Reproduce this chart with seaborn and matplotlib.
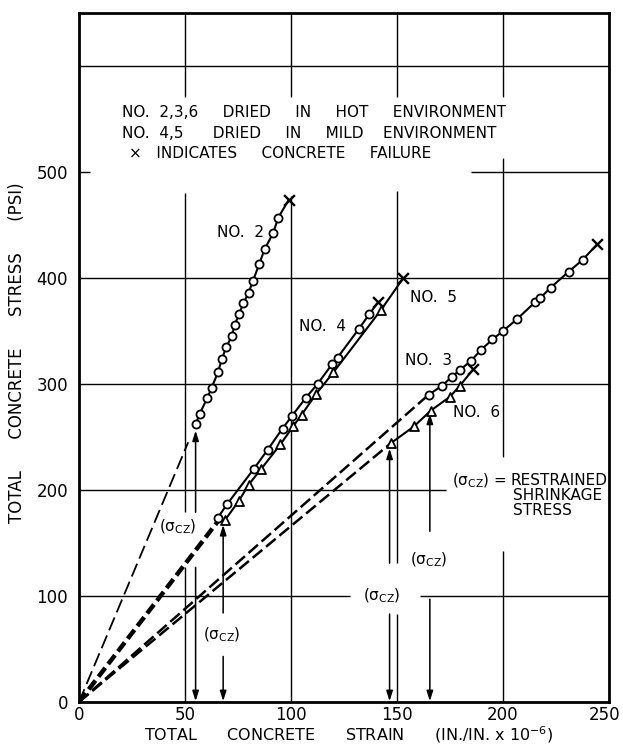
import matplotlib
matplotlib.use("Agg")
import matplotlib.pyplot as plt
import matplotlib.transforms as mtransforms
import numpy as np
import pandas as pd
import seaborn as sns

# ---------------- data (strain: in./in. x 1e-6, stress: psi) ----------------
no2_strain = [55, 57, 60.5, 62.5, 65.5, 67.5, 69.5, 72, 73.5, 75.5, 77.5, 80, 82, 85, 87.5, 91.5, 94]
no2_stress = [262, 272, 287, 296, 311, 324, 335, 345, 356, 366, 376, 386, 397, 413, 427, 442, 457]
no2_fail = (99, 474)

no4_strain = [65.5, 70, 82.5, 89, 96, 100.5, 107, 112.5, 119.5, 122, 132, 137]
no4_stress = [174, 187, 220, 238, 258, 270, 287, 300, 319, 325, 352, 366]
no4_fail = (141, 377)

no5_strain = [69, 75.5, 80, 86, 95, 101, 105, 112, 120, 142.5]
no5_stress = [172, 190, 205, 220, 243, 260, 271, 291, 311, 370]
no5_fail = (153, 400)

no3_strain = [165, 171, 176, 179.5, 185, 189.5, 195, 200, 206.5, 215, 217.5, 222.5, 231, 237.5]
no3_stress = [290, 298, 307, 313, 322, 332, 342, 350, 361, 377, 381, 391, 406, 417]
no3_fail = (244.5, 432)

no6_strain = [147, 158, 166, 175, 179.5]
no6_stress = [244, 260, 275, 288, 298]
no6_fail = (186, 314)

# dashed extrapolations back to the origin
dash_no2 = ([0, 51.5], [0, 245])
dash_no45 = ([0, 66.5], [0, 173])
dash_no3 = ([0, 165], [0, 290])
dash_no6 = ([0, 147], [0, 244])

# restrained shrinkage stress (sigma_cz) dimension arrows
scz_strain = [55, 68, 146.5, 165.5]
scz_tip = [256, 167, 239, 272]
scz_label_strain = [46.5, 67.5, 143, 165]
scz_label_stress = [165, 63, 100, 134]

x_ticks = [0, 50, 100, 150, 200, 250]
y_ticks = [0, 100, 200, 300, 400, 500]

# ---------------- styling constants ----------------
SCZ_GAP = [(127, 179), (43, 84), (83, 131), (97, 161)]
VGRID = {50: [(127, 179), (480, 571)], 100: [(477, 571)], 150: [(83, 131), (482, 571)],
         200: [(142, 231), (513, 571)]}
HGRID = {100: [(128, 161)], 200: [(173, 250)], 300: [], 400: [], 500: [(5, 185)], 600: []}
XMAX, YMAX = 250, 650

sns.set_theme(style="white")
plt.rcParams['font.family'] = ['DejaVu Sans']
plt.rcParams['lines.scale_dashes'] = False
plt.rcParams['mathtext.fontset'] = 'dejavusans'
plt.rcParams['text.color'] = 'black'
plt.rcParams['axes.labelcolor'] = 'black'
plt.rcParams['xtick.color'] = 'black'
plt.rcParams['ytick.color'] = 'black'

fig = plt.figure(figsize=(6.23, 7.46), dpi=100)
ax = fig.add_axes([79 / 623, 1 - 702 / 746, 530 / 623, 689 / 746])
ax.set_xlim(0, XMAX)
ax.set_ylim(0, YMAX)


def segments(lo, hi, gaps):
    segs = []
    start = lo
    for g0, g1 in sorted(gaps):
        segs.append((start, g0))
        start = g1
    segs.append((start, hi))
    return segs


for gx, gaps in VGRID.items():
    for a, b in segments(0, YMAX, gaps):
        ax.vlines(gx, a, b, colors='black', lw=1.0, zorder=1)
for gy, gaps in HGRID.items():
    for a, b in segments(0, XMAX, gaps):
        ax.hlines(gy, a, b, colors='black', lw=1.0, zorder=1)

# dashed extrapolations
ax.plot(*dash_no2, color='black', lw=1.3, ls=(0, (10, 4)), zorder=2)
ax.plot(*dash_no45, color='black', lw=3.2, ls=(0, (8, 3.5)), zorder=2)
ax.plot(*dash_no3, color='black', lw=1.8, ls=(0, (9, 3.5)), zorder=2)
ax.plot(*dash_no6, color='black', lw=1.8, ls=(0, (9, 3.5)), zorder=2)

series = [
    (no2_strain, no2_stress, no2_fail, 'o'),
    (no4_strain, no4_stress, no4_fail, 'o'),
    (no5_strain, no5_stress, no5_fail, '^'),
    (no3_strain, no3_stress, no3_fail, 'o'),
    (no6_strain, no6_stress, no6_fail, '^'),
]
for sx, sy, fail, mk in series:
    df = pd.DataFrame({'strain': list(sx) + [fail[0]], 'stress': list(sy) + [fail[1]]})
    sns.lineplot(data=df, x='strain', y='stress', color='black', lw=1.5,
                 estimator=None, sort=False, ax=ax, zorder=3)
    sns.scatterplot(x=sx, y=sy, marker=mk, s=34 if mk == 'o' else 42, color='white',
                    edgecolor='black', linewidth=1.3, ax=ax, zorder=4)
    sns.scatterplot(x=[fail[0]], y=[fail[1]], marker='x', s=60, color='black',
                    linewidth=1.7, ax=ax, zorder=5)

# sigma_cz arrows
arrow_kw = dict(arrowstyle='-|>,head_length=0.5,head_width=0.16', color='black',
                lw=1.1, shrinkA=0, shrinkB=0, mutation_scale=12)
for xs, tip, (g0, g1), lx, ly in zip(scz_strain, scz_tip, SCZ_GAP, scz_label_strain, scz_label_stress):
    ax.annotate('', xy=(xs, tip), xytext=(xs, g1), arrowprops=arrow_kw, zorder=3)
    ax.annotate('', xy=(xs, 0.8), xytext=(xs, g0), arrowprops=arrow_kw, zorder=3)
    ax.text(lx, ly, r'(σ$_{\mathrm{CZ}}$)', fontsize=11, ha='center', va='center', zorder=6)

# curve labels
FS = 11
ax.text(65, 443, 'NO.  2', fontsize=FS, ha='left', va='center')
ax.text(104, 354, 'NO.  4', fontsize=FS, ha='left', va='center')
ax.text(156, 382, 'NO.  5', fontsize=FS, ha='left', va='center')
ax.text(154, 322, 'NO.  3', fontsize=FS, ha='left', va='center')
ax.text(176.5, 273, 'NO.  6', fontsize=FS, ha='left', va='center')

# note block
ax.text(20.5, 556, 'NO.  2,3,6     DRIED     IN     HOT     ENVIRONMENT', fontsize=FS, ha='left', va='center')
ax.text(20.5, 536, 'NO.  4,5      DRIED     IN     MILD    ENVIRONMENT', fontsize=FS, ha='left', va='center')
ax.text(23.5, 517, '×   INDICATES     CONCRETE     FAILURE', fontsize=FS, ha='left', va='center')

# restrained shrinkage definition
ax.text(202, 209, r'(σ$_{\mathrm{CZ}}$) =', fontsize=FS, ha='right', va='center')
ax.text(203.5, 209, 'RESTRAINED', fontsize=FS, ha='left', va='center')
ax.text(204.5, 195, 'SHRINKAGE', fontsize=FS, ha='left', va='center')
ax.text(204.5, 181, 'STRESS', fontsize=FS, ha='left', va='center')

ax.set_xticks(x_ticks)
ax.set_yticks(y_ticks)
ax.set_xticklabels([str(v) for v in x_ticks])
ax.set_yticklabels([str(v) for v in y_ticks])
ax.tick_params(axis='both', length=0, labelsize=12, colors='black')
ax.tick_params(axis='x', pad=3)
ax.tick_params(axis='y', pad=8)
# keep the last x tick label inside the figure edge
last = ax.get_xticklabels()[-1]
last.set_transform(last.get_transform() + mtransforms.ScaledTranslation(-4 / 100, 0, fig.dpi_scale_trans))

ax.set_xlabel('TOTAL      CONCRETE      STRAIN      (IN./IN. x 10$^{-6}$)', fontsize=11.5)
ax.set_ylabel('TOTAL      CONCRETE      STRESS      (PSI)', fontsize=12)
ax.xaxis.set_label_coords(0.508, -0.0325)
ax.yaxis.set_label_coords(-0.100, 0.507)

for sp in ax.spines.values():
    sp.set_visible(True)
    sp.set_color('black')
    sp.set_linewidth(2.0)
    sp.set_zorder(6)

fig.savefig('out.png', dpi=100, facecolor='white')
